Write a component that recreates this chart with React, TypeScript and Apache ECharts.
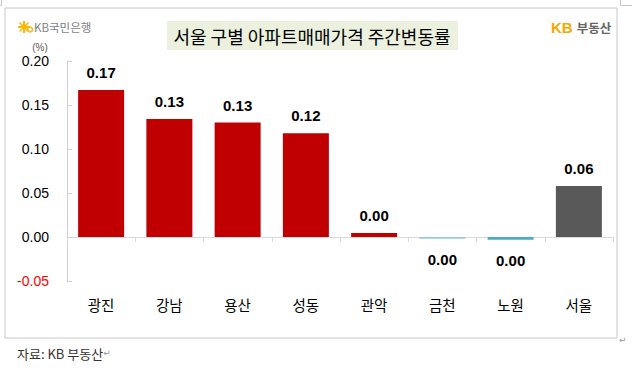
import React, { useEffect, useRef } from "react";
import * as echarts from "echarts";

const categories = ["광진", "강남", "용산", "성동", "관악", "금천", "노원", "서울"];
const values = [0.167, 0.134, 0.13, 0.118, 0.0045, -0.002, -0.003, 0.058];
const valueLabels = ["0.17", "0.13", "0.13", "0.12", "0.00", "0.00", "0.00", "0.06"];
const barColors = ["#C00000", "#C00000", "#C00000", "#C00000", "#C00000", "#93CDDD", "#4BACC6", "#595959"];
const yMin = -0.05;
const yMax = 0.2;
const yStep = 0.05;

const title = "서울 구별 아파트매매가격 주간변동률";
const unitText = "(%)";
const sourceText = "자료: KB 부동산";

const KR = "'Noto Sans CJK KR', 'Noto Sans', sans-serif";
const NUM = "'Liberation Sans', Arial, sans-serif";

export default function App() {
  const ref = useRef<HTMLDivElement>(null);
  useEffect(() => {
    if (!ref.current) return;
    const chart = echarts.init(ref.current, null, { renderer: "svg" });
    const frameStroke = { stroke: "#c8c8c8", lineWidth: 1 };
    chart.setOption({
      animation: false,
      backgroundColor: "#ffffff",
      grid: { left: 67, right: 19, top: 61, bottom: 91, containLabel: false },
      xAxis: {
        type: "category",
        data: categories,
        axisLine: { show: true, onZero: true, lineStyle: { color: "#d9d9d9", width: 1 } },
        axisTick: { show: true, length: 5, lineStyle: { color: "#d9d9d9" } },
        axisLabel: { margin: 16, fontSize: 14.5, color: "#000", fontFamily: KR },
        splitLine: { show: false },
      },
      yAxis: {
        type: "value",
        min: yMin,
        max: yMax,
        interval: yStep,
        axisLine: { show: true, lineStyle: { color: "#d0d0d0", width: 1 } },
        axisTick: { show: true, inside: true, length: 5, lineStyle: { color: "#d0d0d0" } },
        splitLine: { show: false },
        axisLabel: {
          margin: 18,
          fontSize: 14,
          fontFamily: NUM,
          color: (v: any) => (Number(v) < 0 ? "#FF0000" : "#000000"),
          formatter: (v: number) => v.toFixed(2),
        },
      },
      series: [
        {
          type: "bar",
          barWidth: 46,
          data: values.map((v, i) => ({
            value: v,
            itemStyle: { color: barColors[i] },
            label: {
              show: true,
              position: v < 0 ? "bottom" : "top",
              distance: v < 0 ? 13 : 10,
              formatter: () => valueLabels[i],
              fontSize: 15,
              fontWeight: "bold",
              fontFamily: NUM,
              color: "#000",
            },
          })),
        },
      ],
      graphic: [
        // page frame
        { type: "rect", shape: { x: 5, y: 8, width: 612, height: 330 }, style: { fill: "none", ...frameStroke }, silent: true },
        // corner marks
        { type: "line", shape: { x1: 1.5, y1: 0, x2: 1.5, y2: 5 }, style: { ...frameStroke } },
        { type: "line", shape: { x1: 0, y1: 5.5, x2: 1.5, y2: 5.5 }, style: { ...frameStroke } },
        { type: "line", shape: { x1: 620.5, y1: 0, x2: 620.5, y2: 5.5 }, style: { ...frameStroke } },
        { type: "line", shape: { x1: 620.5, y1: 5.5, x2: 632, y2: 5.5 }, style: { ...frameStroke } },
        { type: "text", x: 619, y: 340, style: { text: "↵", fontSize: 9, fill: "#9a9a9a", fontFamily: "DejaVu Sans", verticalAlign: "middle" } },
        // title box
        { type: "rect", shape: { x: 167, y: 21, width: 291, height: 29 }, style: { fill: "#EBF1DE" } },
        {
          type: "text",
          x: 312,
          y: 36,
          style: { text: title, fontSize: 18, fontFamily: KR, fill: "#000", align: "center", verticalAlign: "middle" },
        },
        // KB Kookmin logo
        {
          type: "group",
          x: 24,
          y: 27,
          children: [
            { type: "line", shape: { x1: -6, y1: 0, x2: 6, y2: 0 }, style: { stroke: "#FFB800", lineWidth: 2 } },
            { type: "line", shape: { x1: 0, y1: -6, x2: 0, y2: 6 }, style: { stroke: "#FFB800", lineWidth: 2 } },
            { type: "line", shape: { x1: -4.5, y1: -4.5, x2: 4.5, y2: 4.5 }, style: { stroke: "#FFB800", lineWidth: 1.5 } },
            { type: "line", shape: { x1: -4.5, y1: 4.5, x2: 4.5, y2: -4.5 }, style: { stroke: "#FFB800", lineWidth: 1.5 } },
            { type: "circle", shape: { cx: 6, cy: 2.5, r: 2.5 }, style: { fill: "none", stroke: "#FFB800", lineWidth: 1.5 } },
          ],
        },
        {
          type: "text",
          x: 34,
          y: 27,
          style: { text: "KB국민은행", fontSize: 11.5, fontFamily: KR, fill: "#7f7f7f", verticalAlign: "middle" },
        },
        // KB 부동산 logo
        {
          type: "text",
          x: 551,
          y: 27,
          style: {
            text: "{a|KB}{b|부동산}",
            verticalAlign: "middle",
            rich: {
              a: { fontSize: 15, fontWeight: "bold", fontFamily: NUM, fill: "#F5A800" },
              b: { fontSize: 12.5, fontWeight: "bold", fontFamily: KR, fill: "#666666", padding: [0, 0, 0, 4] },
            },
          },
        },
        // unit
        {
          type: "text",
          x: 40,
          y: 47,
          style: { text: unitText, fontSize: 10, fontFamily: NUM, fill: "#595959", align: "center", verticalAlign: "middle" },
        },
        // source
        {
          type: "text",
          x: 17,
          y: 353,
          style: {
            text: "{a|" + sourceText + "}{b|↵}",
            verticalAlign: "middle",
            rich: {
              a: { fontSize: 13, fontFamily: KR, fill: "#333333" },
              b: { fontSize: 9, fontFamily: "DejaVu Sans", fill: "#9a9a9a" },
            },
          },
        },
      ],
    });
    return () => chart.dispose();
  }, []);
  return (
    <div
      ref={ref}
      style={{ position: "fixed", left: 0, top: 0, width: 632, height: 372, background: "#fff" }}
    />
  );
}
